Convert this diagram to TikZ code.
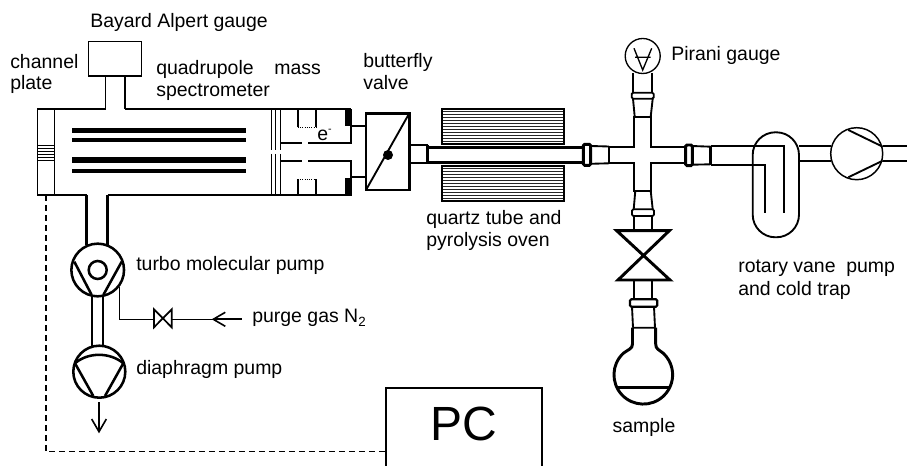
\documentclass[tikz,border=0pt]{standalone}
\usepackage{fontspec}
\setmainfont{Liberation Sans}
\usetikzlibrary{arrows.meta}
\tikzset{
 lbl/.style={anchor=base west,inner sep=0pt,font=\fontsize{14.6pt}{17pt}\selectfont},
 med/.style={line width=1.4pt},
 thick line/.style={line width=2.2pt},
 rod/.style={fill=black,draw=none},
 hatchline/.style={line width=0.75pt,draw=black!85},
 opentip/.style={-{Straight Barb[length=9.5pt,width=11pt,line width=1.2pt]},line width=1.2pt},
 rounded conn/.style={med,fill=white,rounded corners=1pt},
}
\begin{document}
\begin{tikzpicture}[x=0.75pt,y=-0.75pt,line join=miter]
\useasboundingbox (0,0) rectangle (907,466);
\clip (0,0) rectangle (907,466);
% chamber
\draw[med] (37.5,109) rectangle (54.5,195);
\draw[med] (54.5,109) -- (105.5,109) (125,109) -- (350.7,109);
\draw[thick line] (37.5,195) -- (86.7,195) (107.7,195) -- (350.7,195);
\draw[med] (88.5,41.5) rectangle (141.5,76);
\draw[med] (105.5,76) -- (105.5,109) (125,76) -- (125,109);
\foreach \yy in {145,148,151,154,157,160} \draw[line width=0.7pt] (37.5,\yy) -- (54.5,\yy);
% rods
\fill[rod] (71.7,128) rectangle (245.7,133.5);
\fill[rod] (71.7,138.3) rectangle (245.7,142.3);
\fill[rod] (71.7,157.5) rectangle (245.7,163);
\fill[rod] (71.7,168.7) rectangle (245.7,172.7);
% grids
\foreach \xx in {271.7,275.7,280.7} \draw[line width=0.8pt] (\xx,109) -- (\xx,150) (\xx,154) -- (\xx,195);
\draw[med] (280.7,142.7) -- (302,142.7) (308,142.7) -- (350.7,142.7) -- (350.7,109);
\draw[med] (280.7,160.7) -- (302,160.7) (308,160.7) -- (350.7,160.7) -- (350.7,195);
\fill (345,109) rectangle (351.5,126);
\fill (345,178) rectangle (351.5,196);
\draw[med] (297.7,109) -- (297.7,127.3) (316,109) -- (316,127.3);
\draw[line width=0.7pt,densely dotted] (297.7,127.3) -- (316,127.3);
\draw[med] (297.7,195) -- (297.7,179.3) (316,195) -- (316,179.3);
\draw[line width=0.7pt,densely dotted] (297.7,179.3) -- (316,179.3);
\node[lbl] (eminus) at (317,141) {e\raisebox{6pt}{\fontsize{8pt}{8pt}\selectfont -}};
% butterfly valve
\draw[med] (350.7,126) -- (366,126) (350.7,177.3) -- (366,177.3);
\draw[thick line,fill=white] (366,113.3) rectangle (409.3,190);
\draw[med] (366,190) -- (409.3,113.3);
\fill (388,155) circle (5);
% quartz tube
\draw[med] (409.3,145.3) -- (427.7,145.3) (409.3,163.3) -- (427.7,163.3);
\draw[thick line] (427.7,145.3) -- (427.7,163.3);
\draw[thick line] (427.7,147.3) -- (583.3,147.3);
\draw[thick line] (427.7,162.3) -- (583.3,162.3);
\draw[med] (590.7,146) -- (609,146.5) (590.7,163.8) -- (609,163.3);
\draw[thick line] (609,146.5) -- (609,163.3);
\draw[thick line,rounded corners=1pt] (583.3,144.3) rectangle (590.7,165.3);
% ovens
\foreach \yy in {112,115,...,142} \draw[hatchline] (442.3,\yy) -- (564,\yy);
\foreach \yy in {169,172,...,199} \draw[hatchline] (442.3,\yy) -- (564,\yy);
\draw[med] (442.3,109.3) rectangle (564,144.3);
\draw[med] (442.3,166) rectangle (564,201);
% cross
\draw[med] (609,146.7) -- (634,146.7) -- (634,116.7) -- (650.7,116.7) -- (650.7,146.7) -- (685.7,146.7);
\draw[med] (609,163.3) -- (634,163.3) -- (634,190.7) -- (650.7,190.7) -- (650.7,163.3) -- (685.7,163.3);
% pirani
\node[circle,draw,line width=1pt,minimum size=26.25pt,inner sep=0pt] (pirani) at (642.7,56) {};
\draw[line width=1pt] (634,48.3) -- (642.7,70) -- (651.7,48.3) (635,57.3) -- (650.7,57.3);
\draw[med] (633.3,73) -- (633.3,92.7) (652.3,73) -- (652.3,92.7);
\draw[med] (633,98.7) -- (634.7,116.7) (652.7,98.7) -- (650.7,116.7);
\draw[rounded conn] (631.7,92.7) rectangle (653.7,98.7);
% lower taper
\draw[med] (635.3,190.7) -- (633.7,209.3) (650.7,190.7) -- (652.7,209.3);
\draw[rounded conn] (632,209.3) rectangle (654,216);
\draw[med] (634,216) -- (634,230.7) (652.3,216) -- (652.3,230.7);
% main valve
\draw[thick line] (616.7,230.7) -- (669.3,230.7) -- (618,280) -- (670,280) -- cycle;
\draw[med] (634,280) -- (634,299.3) (652.3,280) -- (652.3,299.3);
\draw[rounded conn,line width=1.6pt] (630,299.3) rectangle (657.3,306.7);
% flask
\draw[med] (632,306.7) -- (633,327.7) (654,306.7) -- (655,327.7) (632.5,327.7) -- (655.5,327.7);
\coordinate (flaskL) at (632.5,327.7);
\draw[thick line] (flaskL) -- (632.5,344) .. controls (632.5,349) and (628,349.5) .. (623.3,353.3)
   arc[start angle=133,end angle=407,radius=22pt]
   .. controls (658.6,349.5) and (655.7,349) .. (655.7,344) -- (655.7,327.7);
\draw[thick line] (618,387.7) -- (669,387.7);
% right tube
\draw[thick line,rounded corners=1pt] (685.7,145) rectangle (692.3,165.7);
\draw[med] (692.3,146) -- (710.7,146.7) (692.3,164.7) -- (710.7,164.3);
\draw[thick line] (710.7,146) -- (710.7,165);
\draw[med] (710.7,145.7) -- (784,145.7) -- (784,213.3);
\draw[med] (710.7,165) -- (765,165) -- (765,213.3);
% trap
\draw[med,rounded corners=17pt] (752.7,132.3) rectangle (799,237.3);
% rotary pump
\draw[med] (799,146) -- (830.7,146) (799,161) -- (830.7,161);
\node[circle,draw,line width=1.1pt,minimum size=39pt,inner sep=0pt] (rotary) at (856.7,153.7) {};
\draw[med] (848.3,130) -- (882.7,146.7) (848.3,177.3) -- (882.7,160.7);
\draw[med] (882.7,146) -- (907,146) (882.7,161) -- (907,161);
% turbo
\draw[thick line] (86.7,195) -- (86.7,245) (107.7,195) -- (107.7,245);
\node[circle,draw,line width=1.9pt,minimum size=39.5pt,inner sep=0pt] (turbo) at (97.7,270) {};
\node[circle,draw,line width=1.9pt,minimum size=13.5pt,inner sep=0pt] (rotor) at (97.7,270) {};
\draw[line width=1.9pt] (74.3,261.7) -- (91.7,295) (121.7,261.7) -- (103.3,295);
\draw[line width=1.7pt] (92.3,295.5) -- (92.3,346.7) (102.7,295.5) -- (102.7,346.7);
% diaphragm
\node[circle,draw,line width=1.9pt,minimum size=39pt,inner sep=0pt] (diaphragm) at (99.3,371.7) {};
\draw[line width=1.9pt] (75,363.3) -- (93.3,396) (123.3,363.3) -- (105,396);
\draw[line width=1.9pt] (75,363.3) .. controls (88,352) and (110,352) .. (123.3,363.3);
\coordinate (exhA) at (99,402.3);
\coordinate (exhB) at (99,433.3);
\draw[opentip] (exhA) -- (exhB);
% purge
\coordinate (purgeStart) at (119.3,286.7);
\coordinate (purgeEnd) at (241.7,319.3);
\coordinate (smallL) at (154,319.3);
\coordinate (smallR) at (171.7,319.3);
\draw[line width=1.1pt] (purgeStart) |- (smallL);
\draw[line width=1.3pt] (154,309.3) -- (171.7,327.3) -- (171.7,309.3) -- (154,327.3) -- cycle;
\draw[line width=1.1pt] (smallR) -- (purgeEnd);
\draw[line width=1.2pt,-{Straight Barb[length=9pt,width=10.5pt,line width=1.2pt]}] (purgeEnd) -- (211.7,319.3);
% PC and dashed
\node[draw,line width=1.5pt,minimum width=117pt,minimum height=70pt,anchor=north west,inner sep=0pt] (pc) at (385,386.7) {};
\node[inner sep=0pt,font=\fontsize{36pt}{36pt}\selectfont] (pctext) at (464,424) {PC};
\coordinate (dashTop) at (46,195);
\draw[dash pattern=on 4.5pt off 3pt,line width=1pt] (dashTop) |- (385,451.7);
% labels
\node[lbl] (l1) at (90,28) {Bayard Alpert gauge};
\node[lbl] (l2) at (10,69) {channel};
\node[lbl] (l3) at (10,90) {plate};
\node[lbl] (l4) at (156,75) {quadrupole\hspace{15.5pt}mass};
\node[lbl] (l5) at (156,97) {spectrometer};
\node[lbl] (l6) at (363,68) {butterfly};
\node[lbl] (l7) at (363,90) {valve};
\node[lbl] (l8) at (426,225) {quartz tube and};
\node[lbl] (l9) at (426,247) {pyrolysis oven};
\node[lbl] (l10) at (671,61) {Pirani gauge};
\node[lbl] (l11) at (738,273) {rotary vane\hspace{8pt}pump};
\node[lbl] (l12) at (738,296) {and cold trap};
\node[lbl] (l13) at (136,271) {turbo molecular pump};
\node[lbl] (l14) at (252,323) {purge gas N\raisebox{-3pt}{\fontsize{10pt}{10pt}\selectfont 2}};
\node[lbl] (l15) at (136,375) {diaphragm pump};
\node[lbl,anchor=base] (l16) at (644,433) {sample};
\end{tikzpicture}
\end{document}
